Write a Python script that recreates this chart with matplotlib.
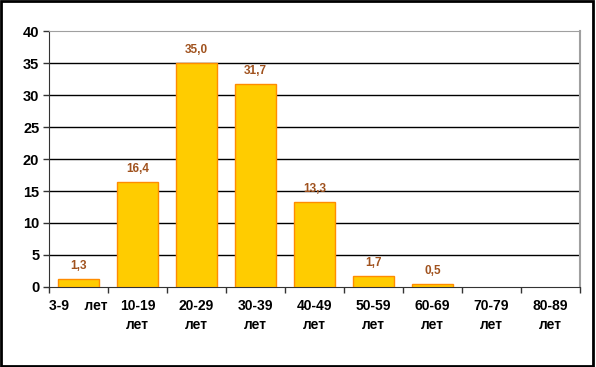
import matplotlib.pyplot as plt
from matplotlib.patches import Rectangle

# --- data ---
categories = ['3-9    лет', '10-19\nлет', '20-29\nлет', '30-39\nлет', '40-49\nлет',
              '50-59\nлет', '60-69\nлет', '70-79\nлет', '80-89\nлет']
values = [1.3, 16.4, 35.0, 31.7, 13.3, 1.7, 0.5, 0, 0]
yticks = [0, 5, 10, 15, 20, 25, 30, 35, 40]

plt.rcParams['font.family'] = ['Liberation Sans', 'DejaVu Sans']

fig = plt.figure(figsize=(5.96, 3.67), dpi=100)
ax = fig.add_axes([0.0822, 0.218, 0.891, 0.6975])

x = list(range(len(values)))
# only non-zero bars are visible
bx = [xi for xi, v in zip(x, values) if v > 0]
bv = [v for v in values if v > 0]
ax.bar(bx, bv, width=0.68, color='#FFCC00', edgecolor='#FF8C00', linewidth=1, zorder=3)

for xi, v in zip(bx, bv):
    ax.annotate(f'{v:.1f}'.replace('.', ','), (xi, v), xytext=(0, 5),
                textcoords='offset points', ha='center', va='bottom',
                fontsize=8.5, fontweight='bold', color='#A0521E')

ax.set_xlim(-0.5, len(values) - 0.5)
ax.set_ylim(0, 40)
ax.set_yticks(yticks)
ax.set_yticklabels([str(t) for t in yticks], fontsize=10.5, fontweight='bold')
for t in yticks[1:-1]:
    ax.axhline(t, color='black', linewidth=1, zorder=1)

# category labels, tick marks on boundaries
ax.set_xticks(x)
ax.set_xticklabels(categories, fontsize=10, fontweight='bold', linespacing=1.45)
ax.tick_params(axis='x', length=0, pad=9)
ax.set_xticks([i - 0.5 for i in range(len(values) + 1)], minor=True)
ax.tick_params(axis='x', which='minor', length=4, width=1, color='#333333')
ax.tick_params(axis='y', length=4, width=1, color='#333333', pad=3)

ax.spines['left'].set_color('#333333')
ax.spines['bottom'].set_color('#333333')
ax.spines['top'].set_color('#A0A0A0')
ax.spines['right'].set_color('#A0A0A0')
ax.spines['right'].set_linewidth(1.5)

fig.patches.append(Rectangle((0.002, 0.003), 0.993, 0.994, transform=fig.transFigure,
                             fill=False, edgecolor='black', linewidth=2))

fig.savefig('out.png', dpi=100)
